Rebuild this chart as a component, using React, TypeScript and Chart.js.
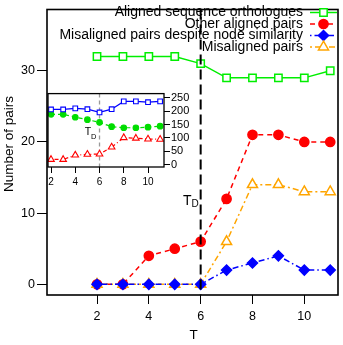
import { useEffect, useRef } from "react";
import { Chart, registerables } from "chart.js";
Chart.register(...registerables);

// ---- data ----
const T = [2, 3, 4, 5, 6, 7, 8, 9, 10, 11];
const alignedOrthologues = [32, 32, 32, 32, 31, 29, 29, 29, 29, 30];
const otherAligned = [0, 0, 4, 5, 6, 12, 21, 21, 20, 20];
const misalignedDespite = [0, 0, 0, 0, 0, 2, 3, 4, 2, 2];
const misaligned = [0, 0, 0, 0, 0, 6, 14, 14, 13, 13];
const mainXTicks = [2, 4, 6, 8, 10];
const mainYTicks = [0, 10, 20, 30];

const insetBlue = [206, 206, 210, 207, 195, 207, 236, 236, 233, 236];
const insetGreen = [188, 188, 177, 168, 158, 142, 138, 138, 140, 144];
const insetRed = [20, 20, 36, 39, 40, 66, 101, 99, 96, 95];
const insetXTicks = [2, 4, 6, 8, 10];
const insetYTicks = [0, 50, 100, 150, 200, 250];
const TD = 6;

const legendLabels = [
  "Aligned sequence orthologues",
  "Other aligned pairs",
  "Misaligned pairs despite node similarity",
  "Misaligned pairs",
];

const FONT = "'Liberation Sans', Arial, sans-serif";
const GREEN = "#00ee00";
const RED = "#ff0000";
const BLUE = "#0000ff";
const ORANGE = "#ffa500";

type Style = { color: string; dash: number[]; shape: string; filled: boolean; r: number };
const styles: Style[] = [
  { color: GREEN, dash: [], shape: "rect", filled: false, r: 5.2 },
  { color: RED, dash: [5, 4], shape: "circle", filled: true, r: 4.6 },
  { color: BLUE, dash: [1.5, 3, 6, 3], shape: "rectRot", filled: true, r: 5 },
  { color: ORANGE, dash: [2, 3, 6, 3], shape: "triangle", filled: false, r: 5.8 },
];

function drawMarker(ctx: CanvasRenderingContext2D, s: Style, x: number, y: number) {
  ctx.save();
  ctx.setLineDash([]);
  ctx.lineWidth = 1.5;
  ctx.strokeStyle = s.color;
  ctx.fillStyle = s.filled ? s.color : "#fff";
  ctx.beginPath();
  if (s.shape === "rect") {
    const h = s.r * Math.SQRT1_2;
    ctx.rect(x - h, y - h, 2 * h, 2 * h);
  } else if (s.shape === "circle") {
    ctx.arc(x, y, s.r, 0, Math.PI * 2);
  } else if (s.shape === "rectRot") {
    ctx.moveTo(x, y - s.r);
    ctx.lineTo(x + s.r, y);
    ctx.lineTo(x, y + s.r);
    ctx.lineTo(x - s.r, y);
    ctx.closePath();
  } else {
    ctx.moveTo(x, y - s.r);
    ctx.lineTo(x + s.r * Math.sin(Math.PI / 3), y + s.r * 0.5);
    ctx.lineTo(x - s.r * Math.sin(Math.PI / 3), y + s.r * 0.5);
    ctx.closePath();
  }
  ctx.fill();
  ctx.stroke();
  ctx.restore();
}

const mainDecor = {
  id: "mainDecor",
  afterDatasetsDraw(chart: any) {
    const { ctx, chartArea: a, scales } = chart;
    const x = scales.x.getPixelForValue(TD);
    ctx.save();
    ctx.strokeStyle = "#000";
    ctx.lineWidth = 2;
    ctx.setLineDash([10, 5]);
    ctx.beginPath();
    ctx.moveTo(x, a.top);
    ctx.lineTo(x, a.bottom);
    ctx.stroke();
    ctx.setLineDash([]);
    // T_D label
    ctx.fillStyle = "#000";
    ctx.textAlign = "right";
    ctx.textBaseline = "alphabetic";
    ctx.font = `10px ${FONT}`;
    const dw = ctx.measureText("D").width;
    ctx.fillText("D", x - 2, 207);
    ctx.font = `14px ${FONT}`;
    ctx.fillText("T", x - 2 - dw, 205);
    ctx.restore();
  },
  afterDraw(chart: any) {
    const { ctx, chartArea: a } = chart;
    ctx.save();
    ctx.strokeStyle = "#000";
    ctx.lineWidth = 1.6;
    ctx.setLineDash([]);
    ctx.strokeRect(a.left, a.top, a.right - a.left, a.bottom - a.top);
    // axis titles
    ctx.fillStyle = "#000";
    ctx.font = `13.5px ${FONT}`;
    ctx.textAlign = "center";
    ctx.textBaseline = "middle";
    ctx.fillText("T", (a.left + a.right) / 2 + 1, 335);
    ctx.save();
    ctx.translate(9, 144);
    ctx.rotate(-Math.PI / 2);
    ctx.fillText("Number of pairs", 0, 0);
    ctx.restore();
    // legend
    const rows = [12.5, 24, 35.5, 47];
    ctx.font = `14px ${FONT}`;
    ctx.textAlign = "right";
    legendLabels.forEach((lab, i) => {
      const y = rows[i];
      const s = styles[i];
      ctx.fillStyle = "#000";
      ctx.fillText(lab, 303, y);
      ctx.strokeStyle = s.color;
      ctx.lineWidth = 1.5;
      ctx.setLineDash(s.dash);
      ctx.beginPath();
      ctx.moveTo(310, y);
      ctx.lineTo(337, y);
      ctx.stroke();
      drawMarker(ctx, s, 323.5, y);
    });
    ctx.restore();
  },
};

const insetDecor = {
  id: "insetDecor",
  beforeDraw(chart: any) {
    const { ctx, chartArea: a } = chart;
    ctx.save();
    ctx.fillStyle = "#fff";
    ctx.fillRect(a.left, a.top, a.right - a.left, a.bottom - a.top);
    ctx.restore();
  },
  beforeDatasetsDraw(chart: any) {
    const { ctx, chartArea: a, scales } = chart;
    const x = scales.x.getPixelForValue(TD);
    ctx.save();
    ctx.strokeStyle = "#999";
    ctx.lineWidth = 1.3;
    ctx.setLineDash([4, 3]);
    ctx.beginPath();
    ctx.moveTo(x, a.top);
    ctx.lineTo(x, a.bottom);
    ctx.stroke();
    ctx.setLineDash([]);
    ctx.fillStyle = "#000";
    ctx.textAlign = "right";
    ctx.textBaseline = "alphabetic";
    ctx.font = `7.5px ${FONT}`;
    const dw = ctx.measureText("D").width;
    ctx.fillText("D", x - 3, 53);
    ctx.font = `10.5px ${FONT}`;
    ctx.fillText("T", x - 3 - dw, 49);
    ctx.restore();
  },
  afterDraw(chart: any) {
    const { ctx, chartArea: a } = chart;
    ctx.save();
    ctx.strokeStyle = "#000";
    ctx.lineWidth = 1.3;
    ctx.strokeRect(a.left, a.top, a.right - a.left, a.bottom - a.top);
    ctx.restore();
  },
};

function ds(label: string, data: number[], s: Style, lw = 1.5) {
  return {
    label,
    data: T.map((t, i) => ({ x: t, y: data[i] })),
    borderColor: s.color,
    backgroundColor: s.filled ? s.color : "#fff",
    pointBackgroundColor: s.filled ? s.color : "#fff",
    pointBorderColor: s.color,
    borderWidth: lw,
    pointBorderWidth: 1.5,
    borderDash: s.dash,
    pointStyle: s.shape,
    pointRadius: s.r,
    pointHoverRadius: s.r,
    tension: 0,
    fill: false,
  };
}

export default function App() {
  const mainRef = useRef<HTMLCanvasElement>(null);
  const insetRef = useRef<HTMLCanvasElement>(null);

  useEffect(() => {
    const tickFont = { family: FONT, size: 12.5 };
    const main = new Chart(mainRef.current as HTMLCanvasElement, {
      type: "line",
      data: {
        datasets: [
          ds(legendLabels[2], misalignedDespite, styles[2]),
          ds(legendLabels[3], misaligned, styles[3]),
          ds(legendLabels[1], otherAligned, styles[1]),
          ds(legendLabels[0], alignedOrthologues, styles[0]),
        ] as any,
      },
      options: {
        responsive: false,
        animation: false,
        devicePixelRatio: 1,
        layout: { padding: { top: 3, right: 5, left: 0, bottom: 0 }, autoPadding: false },
        plugins: { legend: { display: false }, tooltip: { enabled: false } },
        scales: {
          x: {
            type: "linear",
            min: 0.07,
            max: 11.3,
            afterBuildTicks: (s: any) => {
              s.ticks = mainXTicks.map((v) => ({ value: v }));
            },
            afterFit: (s: any) => {
              s.height = 50;
            },
            grid: { display: true, drawOnChartArea: false, drawTicks: true, tickLength: 9, color: "#000", lineWidth: 1 },
            border: { display: false },
            ticks: { color: "#000", font: tickFont, padding: 5, maxRotation: 0, autoSkip: false, callback: (v: any) => String(v) },
          },
          y: {
            type: "linear",
            min: -1.5,
            max: 38.6,
            afterBuildTicks: (s: any) => {
              s.ticks = mainYTicks.map((v) => ({ value: v }));
            },
            afterFit: (s: any) => {
              s.width = 47;
            },
            grid: { display: true, drawOnChartArea: false, drawTicks: true, tickLength: 10, color: "#000", lineWidth: 1 },
            border: { display: false },
            ticks: { color: "#000", font: tickFont, padding: 2, autoSkip: false, callback: (v: any) => String(v) },
          },
        },
      } as any,
      plugins: [mainDecor],
    });

    const iBlue: Style = { color: BLUE, dash: [], shape: "rect", filled: false, r: 3.3 };
    const iGreen: Style = { color: "#00dd00", dash: [4, 3], shape: "circle", filled: true, r: 2.8 };
    const iRed: Style = { color: RED, dash: [1, 2.5, 4, 2.5], shape: "triangle", filled: false, r: 3.8 };
    const insetDs = [ds("blue", insetBlue, iBlue, 1.2), ds("green", insetGreen, iGreen, 1.2), ds("red", insetRed, iRed, 1.2)];
    insetDs.forEach((d: any) => (d.pointBorderWidth = 1.1));

    const inset = new Chart(insetRef.current as HTMLCanvasElement, {
      type: "line",
      data: { datasets: insetDs as any },
      options: {
        responsive: false,
        animation: false,
        devicePixelRatio: 1,
        layout: { padding: { top: 3, right: 0, left: 4, bottom: 0 }, autoPadding: false },
        plugins: { legend: { display: false }, tooltip: { enabled: false } },
        scales: {
          x: {
            type: "linear",
            min: 1.75,
            max: 11.32,
            afterBuildTicks: (s: any) => {
              s.ticks = insetXTicks.map((v) => ({ value: v }));
            },
            afterFit: (s: any) => {
              s.height = 21;
            },
            grid: { display: true, drawOnChartArea: false, drawTicks: true, tickLength: 6, color: "#000", lineWidth: 1 },
            border: { display: false },
            ticks: { color: "#000", font: { family: FONT, size: 10 }, padding: 3, maxRotation: 0, autoSkip: false, callback: (v: any) => String(v) },
          },
          y: {
            type: "linear",
            position: "right",
            min: -8,
            max: 265,
            afterBuildTicks: (s: any) => {
              s.ticks = insetYTicks.map((v) => ({ value: v }));
            },
            afterFit: (s: any) => {
              s.width = 30;
            },
            grid: { display: true, drawOnChartArea: false, drawTicks: true, tickLength: 6, color: "#000", lineWidth: 1 },
            border: { display: false },
            ticks: { color: "#000", font: { family: FONT, size: 11 }, padding: 1, autoSkip: false, callback: (v: any) => String(v) },
          },
        },
      } as any,
      plugins: [insetDecor],
    });

    return () => {
      main.destroy();
      inset.destroy();
    };
  }, []);

  return (
    <div style={{ position: "absolute", left: 0, top: 0, width: 343, height: 345, background: "#fff" }}>
      <canvas ref={mainRef} width={343} height={345} style={{ position: "absolute", left: 0, top: 0, width: 343, height: 345 }} />
      <canvas ref={insetRef} width={150} height={102} style={{ position: "absolute", left: 44, top: 86, width: 150, height: 102 }} />
    </div>
  );
}
